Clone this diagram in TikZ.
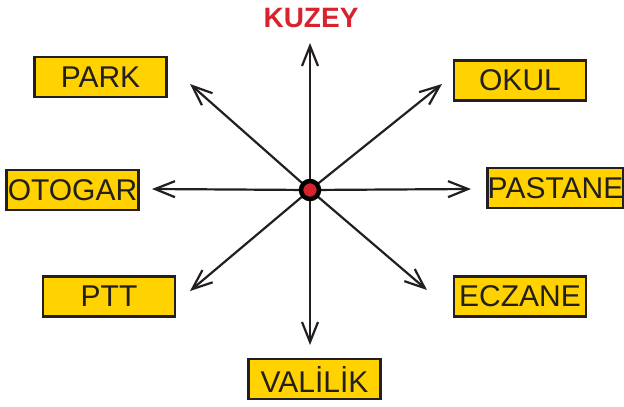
\documentclass[tikz,border=0pt]{standalone}
\usepackage{fontspec}
\setmainfont{Liberation Sans}
\usepackage{tikz}
\usetikzlibrary{arrows.meta}
\usetikzlibrary{positioning}
\definecolor{boxyellow}{RGB}{255,210,0}
\definecolor{kuzeyred}{RGB}{215,35,45}
\definecolor{darkline}{RGB}{35,31,32}

\begin{document}
\begin{tikzpicture}[x=1pt, y=-1pt, >={Straight Barb[length=20pt,width=16pt]}]

    \tikzstyle{blk} = [rectangle, draw=darkline, fill=boxyellow, line width=2.5pt, minimum width=132pt, minimum height=40pt, inner sep=0pt, font=\fontsize{30}{30}\selectfont, text=darkline]
    \tikzstyle{connector} = [->, line width=2.2pt, draw=darkline]
    \tikzstyle{dot} = [circle, draw=black, fill=kuzeyred, line width=4.5pt, minimum size=18pt, inner sep=0pt]

    \useasboundingbox (0,0) rectangle (624,407);

    % Direction boxes %%%%%%%%%%%%%%%%%%%%%%%%%%%%%%%%%%%%%%%%%%%%%%%%%%%%%%%%%%%%%%%%%%%%
    \node[blk] (park)    at (100.5,77)  {PARK};
    \node[blk] (okul)    at (520,80.5)  {OKUL};
    \node[blk] (otogar)  at (72.5,190)  {OTOGAR};
    \node[blk] (pastane) at (555.5,188) {PASTANE};
    \node[blk] (ptt)     at (109,296.5) {PTT};
    \node[blk] (eczane)  at (520,296.5) {ECZANE};
    \node[blk] (valilik) at (314.5,379) {VALİLİK};

    \node[font=\fontsize{28}{28}\selectfont\bfseries, text=kuzeyred] (kuzey) at (311,18) {KUZEY};

    % Arrow tips %%%%%%%%%%%%%%%%%%%%%%%%%%%%%%%%%%%%%%%%%%%%%%%%%%%%%%%%%%%%%%%%%%%%%%%%
    \coordinate (c)  at (310,190);
    \coordinate (tN)  at (310,43);
    \coordinate (tNE) at (442,84);
    \coordinate (tE)  at (471,189);
    \coordinate (tSE) at (427,290);
    \coordinate (tS)  at (310,345);
    \coordinate (tSW) at (190,291);
    \coordinate (tW)  at (152,189);
    \coordinate (tNW) at (190,84);

    % Now draw the arrows %%%%%%%%%%%%%%%%%%%%%%%%%%%%%%%%%%%%%%%%%%%%%%%%%%%%%%%%%%%%%%%%
    \draw [connector] (c) -- (tN);
    \draw [connector] (c) -- (tNE);
    \draw [connector] (c) -- (tE);
    \draw [connector] (c) -- (tSE);
    \draw [connector] (c) -- (tS);
    \draw [connector] (c) -- (tSW);
    \draw [connector] (c) -- (tW);
    \draw [connector] (c) -- (tNW);

    \node[dot] (center) at (c) {};

\end{tikzpicture}
\end{document}
